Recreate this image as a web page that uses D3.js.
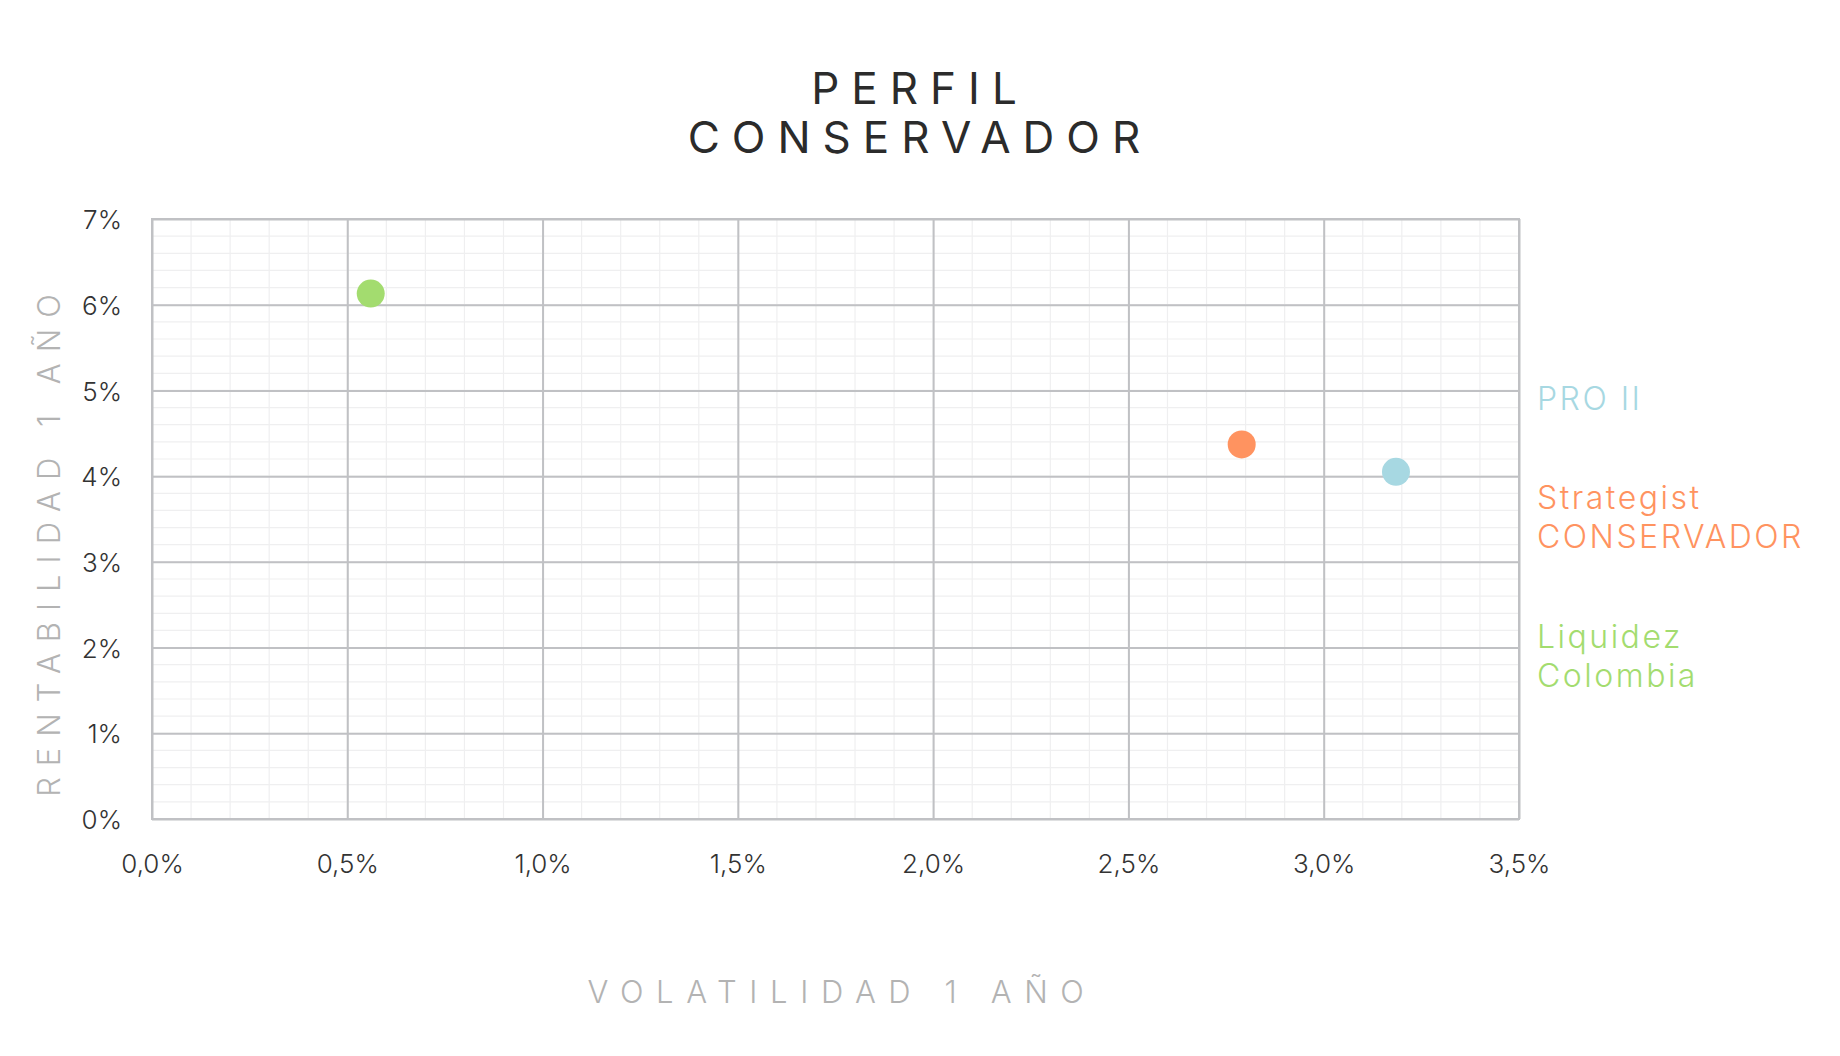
<!DOCTYPE html>
<html>
<head>
<meta charset="utf-8">
<script src="https://cdn.jsdelivr.net/npm/d3@7"></script>
<style>
  body { margin: 0; background: #fff; }
  text { font-family: Inter, "Noto Sans", sans-serif; }
</style>
</head>
<body>
<svg id="chart" width="1840" height="1056"></svg>
<script>
// data
var fundNames = ["Liquidez Colombia", "Strategist CONSERVADOR", "PRO II"];
var volatility = [0.56, 2.79, 3.185];   // % 1 año
var returns = [6.13, 4.37, 4.05];       // % 1 año
var fundColors = ["#a3dc6f", "#ff9360", "#a7d8e2"];
var legendLines = [["PRO II"], ["Strategist", "CONSERVADOR"], ["Liquidez", "Colombia"]];
var legendColors = ["#a7d8e2", "#ff9360", "#a3dc6f"];
var xTicks = [0, 0.5, 1, 1.5, 2, 2.5, 3, 3.5];
var yTicks = [0, 1, 2, 3, 4, 5, 6, 7];

var svg = d3.select("#chart");
var margin = { left: 152, top: 219, right: 1840 - 1519, bottom: 1056 - 819 };
var w = 1840 - margin.left - margin.right;
var h = 1056 - margin.top - margin.bottom;

var locale = d3.formatLocale({ decimal: ",", thousands: ".", grouping: [3], currency: ["$", ""] });
var fmtX = function (d) { return locale.format(".1f")(d) + "%"; };
var fmtY = function (d) { return d + "%"; };

var x = d3.scaleLinear().domain([0, 3.5]).range([0, w]);
var y = d3.scaleLinear().domain([0, 7]).range([h, 0]);

// title, two lines
["PERFIL", "CONSERVADOR"].forEach(function (s, i) {
  svg.append("text")
    .attr("x", 920).attr("y", 104 + i * 49).attr("text-anchor", "middle")
    .attr("fill", "#2b2b2b").style("font-size", "44px").style("font-weight", 400)
    .style("letter-spacing", "12px")
    .text(s);
});

var g = svg.append("g").attr("transform", "translate(" + margin.left + "," + margin.top + ")");

// minor grid
g.append("g").selectAll("line").data(d3.range(0, 36).map(function (i) { return i / 10; }))
  .join("line").attr("x1", x).attr("x2", x).attr("y1", 0).attr("y2", h)
  .attr("stroke", "#efeff0").attr("stroke-width", 1.2);
g.append("g").selectAll("line").data(d3.range(0, 36).map(function (i) { return i / 5; }))
  .join("line").attr("y1", y).attr("y2", y).attr("x1", 0).attr("x2", w)
  .attr("stroke", "#efeff0").attr("stroke-width", 1.2);

// major grid through the axes
var xAxis = d3.axisBottom(x).tickValues(xTicks).tickSize(-h).tickFormat(fmtX).tickPadding(36);
var yAxis = d3.axisLeft(y).tickValues(yTicks).tickSize(-w).tickFormat(fmtY).tickPadding(30);

var gx = g.append("g").attr("transform", "translate(0," + h + ")").call(xAxis);
var gy = g.append("g").call(yAxis);
[gx, gy].forEach(function (ax) {
  ax.select(".domain").remove();
  ax.selectAll(".tick line").attr("stroke", "#c0c1c4").attr("stroke-width", 2);
  ax.selectAll(".tick text").attr("fill", "#333").style("font-size", "26px").style("font-weight", 300);
});
gx.selectAll(".tick text").attr("dy", "0.71em");
gy.selectAll(".tick text").attr("dy", "0.37em");

g.append("rect").attr("width", w).attr("height", h)
  .attr("fill", "none").attr("stroke", "#c0c1c4").attr("stroke-width", 2);

// points
g.append("g").selectAll("circle").data(fundNames)
  .join("circle")
  .attr("cx", function (d, i) { return x(volatility[i]); })
  .attr("cy", function (d, i) { return y(returns[i]); })
  .attr("r", 14)
  .attr("fill", function (d, i) { return fundColors[i]; });

// legend labels on the right
var legendY = [410, 509, 648];
legendLines.forEach(function (lines, i) {
  var t = svg.append("text").attr("fill", legendColors[i])
    .style("font-size", "32px").style("font-weight", 300)
    .style("letter-spacing", "2.5px");
  lines.forEach(function (s, j) {
    t.append("tspan").attr("x", 1537).attr("y", legendY[i] + j * 39).text(s);
  });
});

// axis titles
svg.append("text")
  .attr("x", 842).attr("y", 1003).attr("text-anchor", "middle")
  .attr("fill", "#b3b3b3").style("font-size", "31px").style("font-weight", 300)
  .style("letter-spacing", "12.6px")
  .text("VOLATILIDAD 1 AÑO");

svg.append("text")
  .attr("transform", "translate(60,540) rotate(-90)")
  .attr("text-anchor", "middle")
  .attr("fill", "#b3b3b3").style("font-size", "31px").style("font-weight", 300)
  .style("letter-spacing", "11px")
  .text("RENTABILIDAD 1 AÑO");
</script>
</body>
</html>
